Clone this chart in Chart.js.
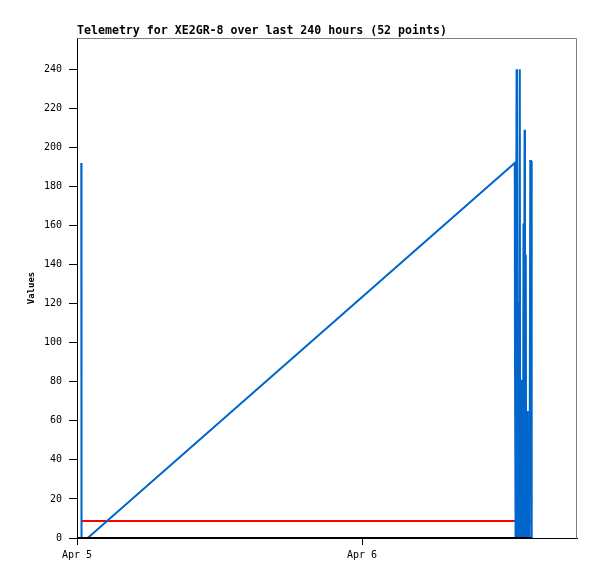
<!DOCTYPE html>
<html>
<head>
<meta charset="utf-8">
<script src="https://cdn.jsdelivr.net/npm/chart.js@4.4.1/dist/chart.umd.min.js"></script>
<style>
html,body{margin:0;padding:0;background:#fff;}
canvas{display:block;}
</style>
</head>
<body>
<canvas id="c" width="597" height="579"></canvas>
<script>
// Hours since Apr 5 00:00 for each telemetry sample
const sampleHours = [0.36, 0.38, 0.90, 36.861, 36.877, 36.928, 37.013, 37.046, 37.147, 37.181,
  37.282, 37.316, 37.409, 37.434, 37.552, 37.594, 37.628, 37.687, 37.721, 37.788,
  37.822, 37.923, 37.949, 38.100, 38.168, 38.227, 38.286];
const sampleValues = [192, 0, 0, 192, 96, 0, 240, 0, 121, 0,
  240, 0, 81, 0, 0, 161, 0, 209, 0, 145,
  0, 65, 0, 0, 193, 193, 0];
// Reference lines
const redHours = [0.36, 38.286];
const redValues = [8.7, 8.7];
const zeroHours = [0, 38.286];
const zeroValues = [0, 0];
// Axis ticks
const xTickHours = [0, 24];
const xTickLabels = ['Apr 5', 'Apr 6'];
const yTickValues = [0, 20, 40, 60, 80, 100, 120, 140, 160, 180, 200, 220, 240];
const titleText = 'Telemetry for XE2GR-8 over last 240 hours (52 points)';
const yTitle = 'Values';

const toXY = (xs, ys) => xs.map((x, i) => ({x: x, y: ys[i]}));
const MONO = '"DejaVu Sans Mono", "Liberation Mono", monospace';

const framePlugin = {
  id: 'frame',
  afterDraw(chart) {
    const a = chart.chartArea, ctx = chart.ctx;
    ctx.save();
    ctx.strokeStyle = '#808080';
    ctx.lineWidth = 1;
    ctx.beginPath();
    ctx.moveTo(Math.round(a.left) + 0.5, Math.round(a.top) + 0.5);
    ctx.lineTo(Math.round(a.right) - 0.5, Math.round(a.top) + 0.5);
    ctx.lineTo(Math.round(a.right) - 0.5, Math.round(a.bottom) + 0.5);
    ctx.stroke();
    ctx.restore();
  }
};

new Chart(document.getElementById('c'), {
  type: 'line',
  data: {
    datasets: [
      {label: 'zero', data: toXY(zeroHours, zeroValues), borderColor: '#000000', borderWidth: 2, pointRadius: 0, tension: 0, fill: false},
      {label: 'telemetry', data: toXY(sampleHours, sampleValues), borderColor: '#0066cc', borderWidth: 2, pointRadius: 0, tension: 0, fill: false},
      {label: 'threshold', data: toXY(redHours, redValues), borderColor: '#ff0000', borderWidth: 2, pointRadius: 0, tension: 0, fill: false}
    ]
  },
  options: {
    responsive: false,
    animation: false,
    devicePixelRatio: 1,
    layout: {padding: {left: 0, right: 20, top: 0, bottom: 0}},
    plugins: {
      legend: {display: false},
      tooltip: {enabled: false},
      title: {
        display: true, text: titleText, align: 'start', fullSize: false, color: '#000',
        font: {family: MONO, size: 11.6, weight: 'bold', lineHeight: '14px'},
        padding: {top: 24, bottom: 0}
      }
    },
    scales: {
      x: {
        type: 'linear', min: 0, max: 42.1,
        afterFit(s) { s.height = 41; },
        afterBuildTicks(s) { s.ticks = xTickHours.map(v => ({value: v})); },
        grid: {display: true, drawOnChartArea: false, drawTicks: true, tickLength: 7, color: '#000'},
        border: {display: true, color: '#000'},
        ticks: {
          color: '#000', padding: 4, maxRotation: 0, autoSkip: false, includeBounds: false,
          font: {family: MONO, size: 10},
          callback(v) { const i = xTickHours.indexOf(v); return i >= 0 ? xTickLabels[i] : ''; }
        }
      },
      y: {
        type: 'linear', min: 0, max: 256,
        afterFit(s) { s.width = 77; },
        afterBuildTicks(s) { s.ticks = yTickValues.map(v => ({value: v})); },
        grid: {display: true, drawOnChartArea: false, drawTicks: true, tickLength: 8, color: '#000'},
        border: {display: true, color: '#000'},
        title: {
          display: true, text: yTitle, color: '#000',
          font: {family: MONO, size: 9, weight: 'bold'},
          padding: {top: 26, bottom: 0}
        },
        ticks: {
          color: '#000', padding: 7, autoSkip: false, includeBounds: false,
          font: {family: MONO, size: 10}
        }
      }
    }
  },
  plugins: [framePlugin]
});
</script>
</body>
</html>
